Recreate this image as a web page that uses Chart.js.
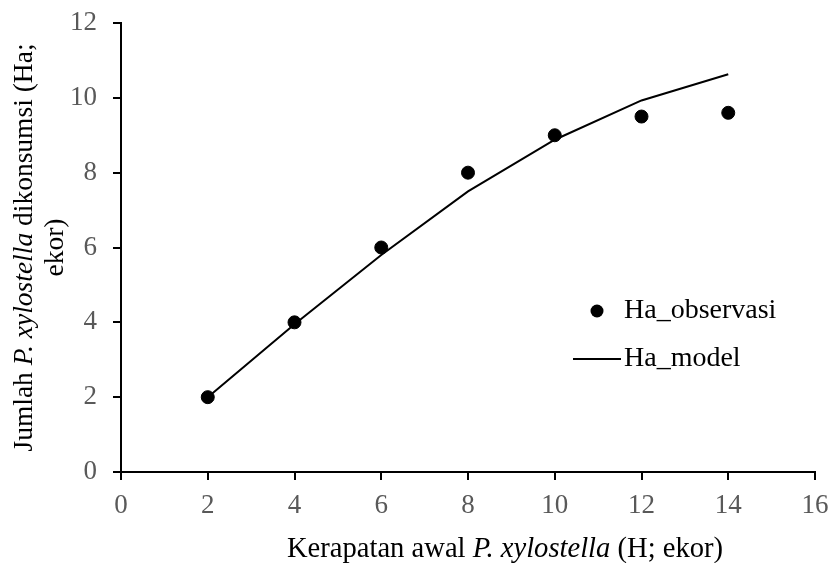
<!DOCTYPE html>
<html>
<head>
<meta charset="utf-8">
<script src="https://cdn.jsdelivr.net/npm/chart.js@4/dist/chart.umd.min.js"></script>
<style>
  html, body { margin: 0; padding: 0; background: #fff; }
  #wrap { width: 831px; height: 563px; }
</style>
</head>
<body>
<div id="wrap"><canvas id="chart" width="831" height="563"></canvas></div>
<script>
// values
const densities = [2, 4, 6, 8, 10, 12, 14]
const haObservasi = [2, 4, 6, 8, 9, 9.5, 9.6]
const haModel = [2, 3.95, 5.8, 7.5, 8.88, 9.93, 10.63]
const xTicks = [0, 2, 4, 6, 8, 10, 12, 14, 16]
const yTicks = [0, 2, 4, 6, 8, 10, 12]

const serif = '"Liberation Serif", "Times New Roman", serif'

// draw a line of text made of plain / italic pieces
function richText(ctx, parts, x, y, size, align){
  let total = 0
  for (const p of parts){
    ctx.font = (p.i ? 'italic ' : '') + size + 'px ' + serif
    total += ctx.measureText(p.t).width
  }
  let cx = align === 'center' ? x - total/2 : x
  ctx.textAlign = 'left'
  for (const p of parts){
    ctx.font = (p.i ? 'italic ' : '') + size + 'px ' + serif
    ctx.fillText(p.t, cx, y)
    cx += ctx.measureText(p.t).width
  }
}

const extras = {
  id: 'extras',
  afterDraw(chart){
    const ctx = chart.ctx, area = chart.chartArea
    ctx.save()
    ctx.fillStyle = '#000'
    ctx.textBaseline = 'alphabetic'
    // x axis title
    richText(ctx, [{t:'Kerapatan awal '},{t:'P. xylostella',i:true},{t:' (H; ekor)'}],
      505, 557, 28.6, 'center')
    // y axis title (two lines, rotated)
    const cy = (area.top + area.bottom)/2
    ctx.translate(32, cy)
    ctx.rotate(-Math.PI/2)
    richText(ctx, [{t:'Jumlah '},{t:'P. xylostella',i:true},{t:' dikonsumsi (Ha;'}], 0, 0, 27.5, 'center')
    richText(ctx, [{t:'ekor)'}], 0, 31, 27.5, 'center')
    ctx.restore()

    // legend
    ctx.save()
    ctx.fillStyle = '#000'
    ctx.beginPath()
    ctx.arc(597, 311, 6.5, 0, Math.PI*2)
    ctx.fill()
    ctx.strokeStyle = '#000'
    ctx.lineWidth = 2
    ctx.beginPath()
    ctx.moveTo(573, 359)
    ctx.lineTo(621, 359)
    ctx.stroke()
    ctx.font = '28px ' + serif
    ctx.textBaseline = 'middle'
    ctx.textAlign = 'left'
    ctx.fillText('Ha_observasi', 624, 311)
    ctx.fillText('Ha_model', 624, 359)
    ctx.restore()
  }
}

new Chart(document.getElementById('chart'), {
  type: 'scatter',
  data: {
    datasets: [
      {
        label: 'Ha_observasi',
        data: densities.map((x,i) => ({x: x, y: haObservasi[i]})),
        backgroundColor: '#000',
        borderColor: '#000',
        pointRadius: 6.5,
        showLine: false,
        order: 1
      },
      {
        label: 'Ha_model',
        data: densities.map((x,i) => ({x: x, y: haModel[i]})),
        borderColor: '#000',
        borderWidth: 2,
        pointRadius: 0,
        showLine: true,
        order: 2
      }
    ]
  },
  plugins: [extras],
  options: {
    responsive: false,
    animation: false,
    layout: { padding: { left: 0, top: 23, right: 16, bottom: 0 } },
    plugins: {
      legend: { display: false },
      tooltip: { enabled: false }
    },
    scales: {
      x: {
        type: 'linear',
        min: 0, max: 16,
        afterBuildTicks: s => { s.ticks = xTicks.map(v => ({value: v})) },
        afterFit: s => { s.height = 91; s.paddingLeft = 0; s.paddingRight = 0 },
        grid: { drawOnChartArea: false, drawTicks: true, tickLength: 8, color: '#000', lineWidth: 2 },
        border: { color: '#000', width: 2 },
        ticks: { color: '#595959', font: { family: serif, size: 27 }, padding: 10, maxRotation: 0 }
      },
      y: {
        type: 'linear',
        min: 0, max: 12,
        afterBuildTicks: s => { s.ticks = yTicks.map(v => ({value: v})) },
        afterFit: s => { s.width = 121; s.paddingTop = 0; s.paddingBottom = 0 },
        grid: { drawOnChartArea: false, drawTicks: true, tickLength: 8, color: '#000', lineWidth: 2 },
        border: { color: '#000', width: 2 },
        ticks: { color: '#595959', font: { family: serif, size: 27 }, padding: 16 }
      }
    }
  }
})
</script>
</body>
</html>
